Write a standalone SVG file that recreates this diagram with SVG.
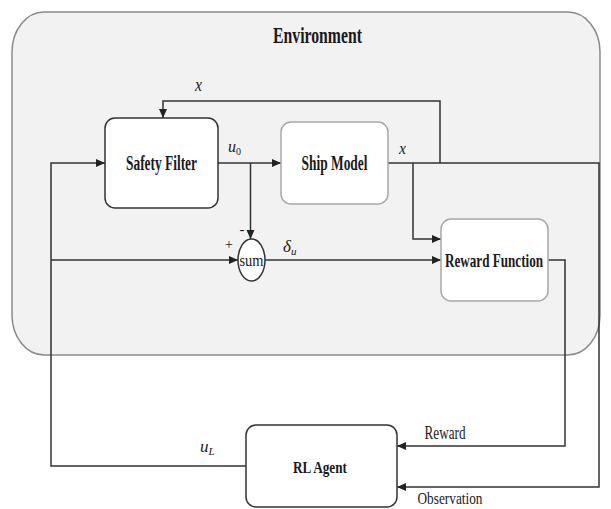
<svg xmlns="http://www.w3.org/2000/svg" width="611" height="509" viewBox="0 0 611 509">
<style>
.box{fill:#ffffff;stroke-width:1.5}
.dark{stroke:#333333}
.light{stroke:#a8a8a8}
.lbl{font-family:"Liberation Serif","Times New Roman",serif;font-weight:bold;fill:#1a1a1a;text-anchor:middle}
.plain{font-family:"Liberation Serif","Times New Roman",serif;fill:#1a1a1a;text-anchor:middle}
.math{font-family:"Liberation Serif","Times New Roman",serif;font-style:italic;fill:#1a1a1a}
.conn{fill:none;stroke:#333333;stroke-width:1.5}
</style>
<defs>
<marker id="ah" markerWidth="10" markerHeight="10" refX="9" refY="5" orient="auto" markerUnits="userSpaceOnUse">
<path d="M0,1 L9,5 L0,9 Z" fill="#222222"/>
</marker>
</defs>
<rect width="611" height="509" fill="#ffffff"/>
<g id="environment">
<rect x="12" y="12" width="588" height="343" rx="32" ry="40" fill="#f2f2f2" stroke="#8a8a8a" stroke-width="1.5"/>
<text class="lbl" x="317.5" y="43" font-size="23" textLength="89" lengthAdjust="spacingAndGlyphs">Environment</text>
</g>
<g id="connectors">
<path class="conn" d="M218,163 H281" marker-end="url(#ah)"/>
<path class="conn" d="M388,163 H599 V487 H397" marker-end="url(#ah)"/>
<path class="conn" d="M440,163 V101 H163 V118" marker-end="url(#ah)"/>
<path class="conn" d="M413,163 V239 H441" marker-end="url(#ah)"/>
<path class="conn" d="M250.5,163 V239" marker-end="url(#ah)"/>
<path class="conn" d="M246,466 H51 V163 H105" marker-end="url(#ah)"/>
<path class="conn" d="M51,260 H238" marker-end="url(#ah)"/>
<path class="conn" d="M265,260 H441" marker-end="url(#ah)"/>
<path class="conn" d="M548,260 H565 V446 H397" marker-end="url(#ah)"/>
<text class="math" x="195" y="91" font-size="18" textLength="7" lengthAdjust="spacingAndGlyphs">x</text>
<text class="math" x="228" y="152" font-size="16">u<tspan font-size="10" dy="3" font-style="normal">0</tspan></text>
<text class="math" x="399" y="154" font-size="17" textLength="7" lengthAdjust="spacingAndGlyphs">x</text>
<text class="math" x="283" y="252" font-size="17">δ<tspan font-size="11" dy="3">u</tspan></text>
<text class="math" x="200" y="452" font-size="17">u<tspan font-size="11" dy="3">L</tspan></text>
<text class="plain" x="229" y="249" font-size="14">+</text>
<text class="plain" x="242" y="234" font-size="15">-</text>
<text class="plain" x="445" y="439" font-size="18" textLength="41" lengthAdjust="spacingAndGlyphs">Reward</text>
<text class="plain" x="450" y="504" font-size="17" textLength="65" lengthAdjust="spacingAndGlyphs">Observation</text>
</g>
<g id="safety-filter">
<rect class="box dark" x="105" y="118" width="113" height="90" rx="10"/>
<text class="lbl" x="161.5" y="170" font-size="20" textLength="71" lengthAdjust="spacingAndGlyphs">Safety Filter</text>
</g>
<g id="ship-model">
<rect class="box light" x="281" y="122" width="107" height="82" rx="10"/>
<text class="lbl" x="334.5" y="170" font-size="20" textLength="66" lengthAdjust="spacingAndGlyphs">Ship Model</text>
</g>
<g id="sum">
<ellipse cx="251.5" cy="260" rx="13.5" ry="21" fill="#ffffff" stroke="#333333" stroke-width="1.5"/>
<text class="plain" x="251.5" y="266" font-size="16" textLength="24" lengthAdjust="spacingAndGlyphs">sum</text>
</g>
<g id="reward-function">
<rect class="box light" x="441" y="219" width="107" height="82" rx="10"/>
<text class="lbl" x="494" y="267" font-size="19" textLength="98" lengthAdjust="spacingAndGlyphs">Reward Function</text>
</g>
<g id="rl-agent">
<rect class="box dark" x="246" y="425" width="151" height="82" rx="10"/>
<text class="lbl" x="320" y="473" font-size="17" textLength="54" lengthAdjust="spacingAndGlyphs">RL Agent</text>
</g>
</svg>
